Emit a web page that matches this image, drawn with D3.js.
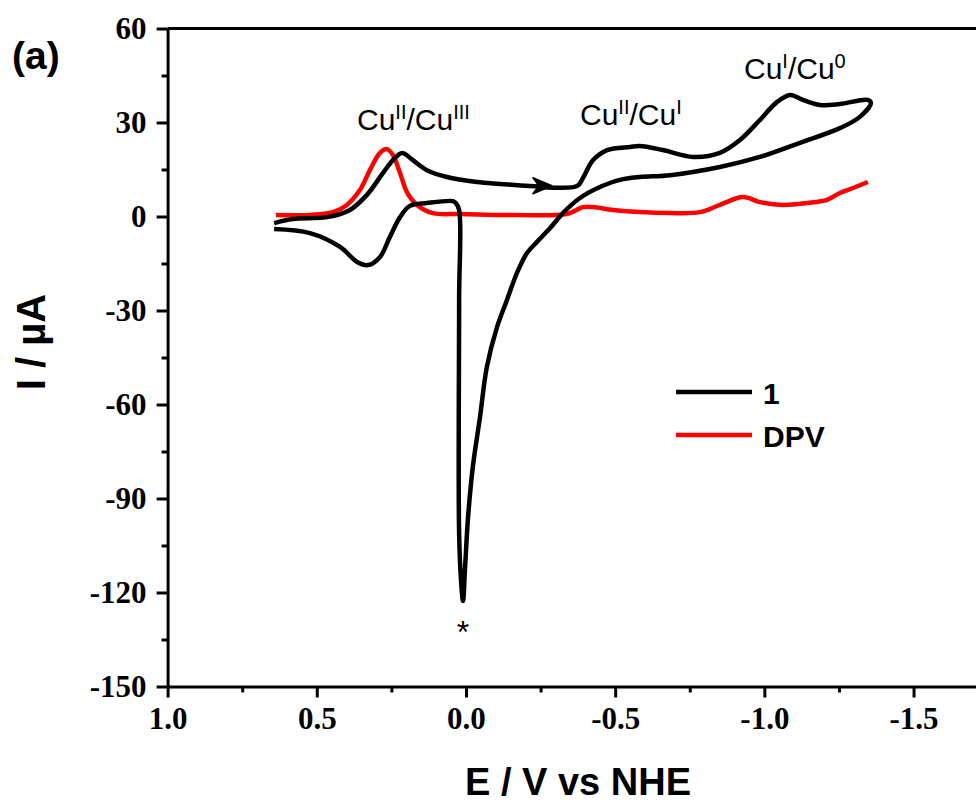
<!DOCTYPE html>
<html>
<head>
<meta charset="utf-8">
<script src="https://cdn.jsdelivr.net/npm/d3@7"></script>
<style>
  body { margin: 0; background: #fff; }
  .tick text { font-family: "Liberation Serif", "Times New Roman", serif; font-weight: bold; }
</style>
</head>
<body>
<div id="chart"></div>
<script>
// cyclic voltammogram of 1 (path order: upper branch left->right, lower branch right->left)
var cvE = [0.643, 0.580, 0.466, 0.389, 0.332, 0.278, 0.245, 0.214, 0.178, 0.131, 0.064, -0.037, -0.114, -0.214, -0.372,
  -0.392, -0.426, -0.473, -0.550, -0.583, -0.660, -0.761, -0.851, -0.918, -0.985, -1.042, -1.086, -1.129, -1.186, -1.253,
  -1.347, -1.357, -1.320, -1.253, -1.119, -0.985, -0.851, -0.684, -0.583, -0.516, -0.449, -0.382, -0.325, -0.282, -0.238,
  -0.204, -0.171, -0.137, -0.104, -0.070, -0.047, -0.023, -0.007, 0.003, 0.010, 0.016, 0.023, 0.023, 0.023, 0.034, 0.044,
  0.131, 0.188, 0.221, 0.255, 0.288, 0.328, 0.365, 0.422, 0.523, 0.643];
var cvI = [-2.1, -0.8, -0.2, 2.1, 6.9, 13.9, 18.0, 20.3, 18.0, 14.8, 12.6, 11.0, 10.4, 9.7, 9.7,
  12.3, 18.0, 21.2, 22.2, 22.5, 21.2, 19.0, 20.3, 24.4, 30.8, 36.5, 38.8, 37.2, 35.6, 35.9,
  37.2, 36.2, 31.8, 28.2, 23.5, 19.0, 15.8, 13.2, 12.6, 11.7, 9.4, 5.9, 1.1, -3.7, -8.1,
  -11.7, -18.0, -26.7, -35.3, -48.0, -64.0, -79.9, -95.9, -111.9, -122.7, -117.0, -101.0, -26.7, 2.1, 4.3, 4.9,
  4.3, 3.4, -0.2, -6.5, -12.9, -15.5, -14.5, -9.7, -5.3, -4.0];

// DPV trace
var dpvE = [0.637, 0.523, 0.446, 0.399, 0.355, 0.322, 0.288, 0.265, 0.245, 0.221, 0.198, 0.164, 0.111, 0.020, -0.114,
  -0.338, -0.365, -0.392, -0.426, -0.493, -0.583, -0.684, -0.784, -0.851, -0.928, -0.985, -1.062, -1.143, -1.210, -1.253,
  -1.297, -1.347];
var dpvI = [0.5, 0.5, 1.4, 3.7, 8.5, 14.8, 20.3, 21.5, 19.6, 13.9, 7.8, 3.7, 1.1, 0.8, 0.5,
  0.8, 1.8, 3.0, 3.0, 2.1, 1.4, 1.1, 1.4, 3.7, 6.2, 4.6, 3.7, 4.3, 5.3, 7.5,
  9.1, 11.0];

var xTicks = [1.0, 0.5, 0.0, -0.5, -1.0, -1.5];
var xMinor = [0.75, 0.25, -0.25, -0.75, -1.25];
var yTicks = [60, 30, 0, -30, -60, -90, -120, -150];
var yMinor = [45, 15, -15, -45, -75, -105, -135];

var w = 976;
var h = 803;
var svg = d3.select("#chart")
            .append("svg")
            .attr("width", w)
            .attr("height", h);

var x = d3.scaleLinear().domain([1.0, -1.72]).range([167.6, 979.2]);
var y = d3.scaleLinear().domain([-150, 60]).range([686.5, 28.5]);

// axes
svg.append("g")
  .attr("transform", "translate(0," + y(-150) + ")")
  .call(d3.axisBottom(x).tickValues(xTicks).tickSize(11).tickSizeOuter(0).tickPadding(9)
    .tickFormat(function(d) { return d.toFixed(1); }));
svg.append("g")
  .attr("transform", "translate(0," + y(-150) + ")")
  .call(d3.axisBottom(x).tickValues(xMinor).tickSize(6).tickFormat(""))
  .select(".domain").remove();

svg.append("g")
  .attr("transform", "translate(" + x(1.0) + ",0)")
  .call(d3.axisLeft(y).tickValues(yTicks).tickSize(11).tickSizeOuter(0).tickPadding(10)
    .tickFormat(function(d) { return String(d); }));
svg.append("g")
  .attr("transform", "translate(" + x(1.0) + ",0)")
  .call(d3.axisLeft(y).tickValues(yMinor).tickSize(6).tickFormat(""))
  .select(".domain").remove();

svg.selectAll(".domain, .tick line").attr("stroke", "#000").attr("stroke-width", 3);
svg.selectAll(".tick text").attr("font-size", 31).attr("fill", "#000");

// top frame line
svg.append("line")
  .attr("x1", x(1.0)).attr("x2", w)
  .attr("y1", y(60)).attr("y2", y(60))
  .attr("stroke", "#000").attr("stroke-width", 3);

// curves
var line = d3.line()
  .x(function(d) { return x(d[0]); })
  .y(function(d) { return y(d[1]); })
  .curve(d3.curveCatmullRom.alpha(0.5));

svg.append("path")
  .datum(d3.zip(dpvE, dpvI))
  .attr("d", line)
  .attr("fill", "none")
  .attr("stroke", "#ff0000")
  .attr("stroke-width", 4.5);

svg.append("path")
  .datum(d3.zip(cvE, cvI))
  .attr("d", line)
  .attr("fill", "none")
  .attr("stroke", "#000")
  .attr("stroke-width", 4.5)
  .attr("stroke-linejoin", "round");

// scan direction arrow
svg.append("path")
  .attr("d", "M0,0 L-19,-8 L-13,0 L-19,8 Z")
  .attr("transform", "translate(" + x(-0.288) + "," + y(9.8) + ")")
  .attr("fill", "#000")
  .attr("stroke", "#000")
  .attr("stroke-width", 1.5)
  .attr("stroke-linejoin", "round");

// annotations
function label(tx, ty, parts) {
  var t = svg.append("text")
    .attr("x", tx).attr("y", ty)
    .attr("font-family", "Arial, 'Liberation Sans', sans-serif")
    .attr("font-size", 30)
    .attr("fill", "#000");
  parts.forEach(function(p) {
    t.append("tspan")
      .attr("font-size", p[1] ? 20 : 30)
      .attr("dy", p[1] ? -11 : (p[2] ? 11 : 0))
      .text(p[0]);
  });
}
label(357, 130, [["Cu"], ["II", 1], ["/Cu", 0, 1], ["III", 1]]);
label(580, 125, [["Cu"], ["II", 1], ["/Cu", 0, 1], ["I", 1]]);
label(744, 79, [["Cu"], ["I", 1], ["/Cu", 0, 1], ["0", 1]]);

svg.append("text")
  .attr("x", x(0.01)).attr("y", 643)
  .attr("text-anchor", "middle")
  .attr("font-family", "Arial, 'Liberation Sans', sans-serif")
  .attr("font-size", 32)
  .text("*");

// legend
var legend = [["1", "#000", 392], ["DPV", "#ff0000", 435]];
legend.forEach(function(l) {
  svg.append("line")
    .attr("x1", 676).attr("x2", 752)
    .attr("y1", l[2]).attr("y2", l[2])
    .attr("stroke", l[1]).attr("stroke-width", 4.5);
  svg.append("text")
    .attr("x", 763).attr("y", l[2] + 12)
    .attr("font-family", "Arial, 'Liberation Sans', sans-serif")
    .attr("font-weight", "bold")
    .attr("font-size", 30)
    .text(l[0]);
});

// titles
svg.append("text")
  .attr("x", 578).attr("y", 795)
  .attr("text-anchor", "middle")
  .attr("font-family", "Arial, 'Liberation Sans', sans-serif")
  .attr("font-weight", "bold")
  .attr("font-size", 38)
  .text("E / V vs NHE");

svg.append("text")
  .attr("transform", "translate(45,342) rotate(-90)")
  .attr("text-anchor", "middle")
  .attr("font-family", "Arial, 'Liberation Sans', sans-serif")
  .attr("font-weight", "bold")
  .attr("font-size", 40)
  .text("I / \u00b5A");

svg.append("text")
  .attr("x", 12).attr("y", 69)
  .attr("font-family", "Arial, 'Liberation Sans', sans-serif")
  .attr("font-weight", "bold")
  .attr("font-size", 39)
  .text("(a)");
</script>
</body>
</html>
